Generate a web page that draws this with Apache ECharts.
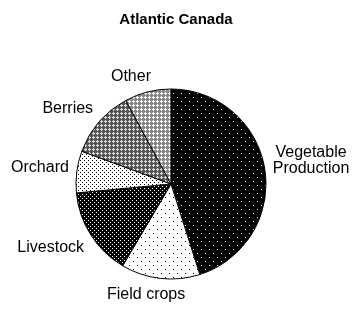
<!DOCTYPE html>
<html>
<head>
<meta charset="utf-8">
<script src="https://cdn.jsdelivr.net/npm/echarts@6/dist/echarts.min.js"></script>
<style>
  html, body { margin: 0; padding: 0; background: #fff; }
  #main { width: 352px; height: 309px; }
</style>
</head>
<body>
<div id="main"></div>
<script>
var categories = ["Vegetable\nProduction", "Field crops", "Livestock", "Orchard", "Berries", "Other"];
var shares = [45.1, 13.4, 15.0, 7.1, 11.5, 7.9];

var pieCenter = [171, 184];
var pieRadius = 95;

// fill patterns, like the old spreadsheet hatches
function tile(size, bg, fg, dots) {
  var c = document.createElement("canvas");
  c.width = size;
  c.height = size;
  var ctx = c.getContext("2d");
  ctx.fillStyle = bg;
  ctx.fillRect(0, 0, size, size);
  ctx.fillStyle = fg;
  dots.forEach(function (d) {
    ctx.fillRect(d[0], d[1], 1, 1);
  });
  return { image: c, repeat: "repeat" };
}

var patterns = [
  tile(8, "#000", "#fff", [[1, 1], [5, 5]]),
  tile(8, "#fff", "#000", [[1, 1], [5, 5]]),
  tile(4, "#000", "#fff", [[0, 0], [2, 2]]),
  tile(4, "#fff", "#000", [[0, 0], [2, 2]]),
  tile(4, "#555", "#ddd", [[1, 0], [0, 1], [1, 1], [2, 1], [1, 2]]),
  tile(4, "#888", "#fff", [[1, 0], [0, 1], [1, 1], [2, 1], [1, 2]])
];

// mid angle of each slice, clockwise from 12 o'clock
var total = shares.reduce(function (a, b) { return a + b; }, 0);
var midAngles = [];
var acc = 0;
shares.forEach(function (v) {
  midAngles.push((acc + v / 2) / total * Math.PI * 2);
  acc += v;
});

function clamp(v) {
  return Math.max(-1, Math.min(1, v));
}

var myChart = echarts.init(document.getElementById("main"));

var option = {
  animation: false,
  title: {
    text: "Atlantic Canada",
    left: "center",
    top: 7,
    textStyle: {
      fontFamily: "Liberation Sans",
      fontSize: 15,
      fontWeight: "bold",
      color: "#000"
    }
  },
  series: [
    {
      type: "pie",
      center: pieCenter,
      radius: pieRadius,
      startAngle: 90,
      clockwise: true,
      data: categories.map(function (name, i) {
        return {
          name: name,
          value: shares[i],
          itemStyle: { color: patterns[i] }
        };
      }),
      itemStyle: {
        borderColor: "#000",
        borderWidth: 1
      },
      label: {
        show: true,
        position: "outside",
        overflow: "none",
        fontFamily: "Liberation Sans",
        fontSize: 16,
        color: "#000",
        lineHeight: 16
      },
      labelLine: {
        show: false
      },
      // push each label box out along its slice's ray
      labelLayout: function (params) {
        var a = midAngles[params.dataIndex];
        var dx = Math.sin(a);
        var dy = -Math.cos(a);
        var r = pieRadius + 8;
        var lines = categories[params.dataIndex].split("\n");
        var ctx = document.createElement("canvas").getContext("2d");
        ctx.font = "16px Liberation Sans";
        var w = Math.max.apply(null, lines.map(function (s) { return ctx.measureText(s).width; }));
        var h = lines.length * 16;
        return {
          x: pieCenter[0] + dx * r + clamp(dx * 3) * w / 2,
          y: pieCenter[1] + dy * r + clamp(dy * 3) * h / 2,
          align: "center",
          verticalAlign: "middle",
          width: w + 2
        };
      }
    }
  ]
};

myChart.setOption(option);
</script>
</body>
</html>
